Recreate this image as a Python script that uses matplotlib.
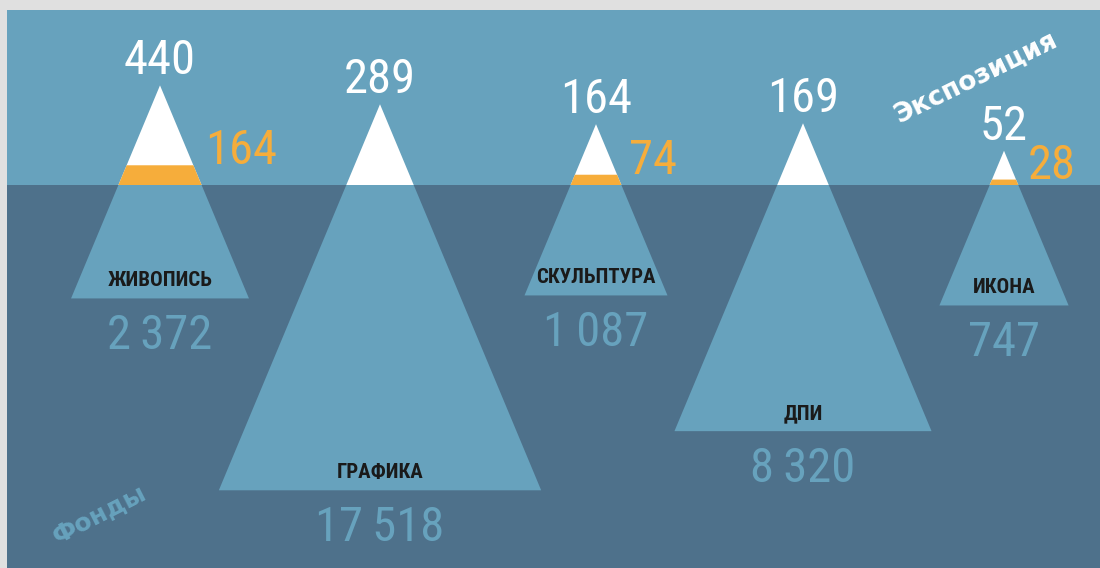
import numpy as np
import matplotlib
matplotlib.use('Agg')
import matplotlib.pyplot as plt
from matplotlib.patches import Polygon, Rectangle
from matplotlib import font_manager

# data
categories = ['ЖИВОПИСЬ', 'ГРАФИКА', 'СКУЛЬПТУРА', 'ДПИ', 'ИКОНА']
fonds = [2372, 17518, 1087, 8320, 747]          # below the water
exposition = [440, 289, 164, 169, 52]           # above the water
highlight = [164, None, 74, None, 28]           # orange part of the exposition

# layout (pixel space)
W, H = 1100, 568
x_pos = [160, 380, 596, 803, 1004]
water_y = 185
panel_left, panel_top = 7, 10

LIGHT = '#67a2bd'
DARK = '#4e718b'
ORANGE = '#f6ad3b'
GREY = '#e0e0e0'

available = {f.name for f in font_manager.fontManager.ttflist}
narrow = next((f for f in ['Liberation Sans Narrow', 'DejaVu Sans Condensed',
                           'Roboto Condensed', 'Liberation Sans'] if f in available),
              'DejaVu Sans')
num_font = [narrow, 'DejaVu Sans']


def total_height(v):
    return 30.5 + 13.69 * np.cbrt(v)


def tip_height(v):
    return 4.75 * np.sqrt(v)


def band_height(v):
    return 0.105 * v + 2.5


def fmt(v):
    return f'{v:,}'.replace(',', '\u2009')


fig = plt.figure(figsize=(W / 100, H / 100), dpi=100, facecolor=GREY)
ax = fig.add_axes([0, 0, 1, 1])
ax.set_xlim(0, W)
ax.set_ylim(H, 0)
ax.axis('off')

ax.add_patch(Rectangle((panel_left, panel_top), W - panel_left, water_y - panel_top,
                       color=LIGHT, lw=0))
ax.add_patch(Rectangle((panel_left, water_y), W - panel_left, H - water_y,
                       color=DARK, lw=0))

slope = 0.835 / 2  # half width per unit height

for cx, name, f, e, hl in zip(x_pos, categories, fonds, exposition, highlight):
    th = total_height(f)
    apex = water_y - tip_height(e)
    base = apex + th
    hw = slope * th
    # whole iceberg
    ax.add_patch(Polygon([(cx, apex), (cx - hw, base), (cx + hw, base)],
                         closed=True, color=LIGHT, lw=0))
    # visible tip
    wh = slope * (water_y - apex)
    ax.add_patch(Polygon([(cx, apex), (cx - wh, water_y), (cx + wh, water_y)],
                         closed=True, color='white', lw=0))
    if hl is not None:
        top = water_y - band_height(hl)
        bh = slope * (top - apex)
        ax.add_patch(Polygon([(cx - bh, top), (cx + bh, top),
                              (cx + wh, water_y), (cx - wh, water_y)],
                             closed=True, color=ORANGE, lw=0))
        ax.text(cx + bh + 12, top - 1, str(hl), color=ORANGE, fontsize=35,
                family=num_font, ha='left', va='baseline')

    ax.text(cx, apex - 11, str(e), color='white', fontsize=35, family=num_font,
            ha='center', va='baseline')
    ax.text(cx, base - 12, name, color='#1a1a1a', fontsize=15, family=narrow,
            fontweight='bold', ha='center', va='baseline')
    ax.text(cx, base + 51, fmt(f), color=LIGHT, fontsize=35, family=num_font,
            ha='center', va='baseline')

ax.text(976, 77, 'Экспозиция', color='white', fontsize=19, fontweight='bold',
        family='DejaVu Sans', rotation=26, ha='center', va='center',
        rotation_mode='anchor')
ax.text(99, 514, 'Фонды', color=LIGHT, fontsize=18, fontweight='bold',
        family='DejaVu Sans', rotation=27, ha='center', va='center',
        rotation_mode='anchor')

fig.savefig('out.png', dpi=100, facecolor=GREY)
plt.close(fig)
